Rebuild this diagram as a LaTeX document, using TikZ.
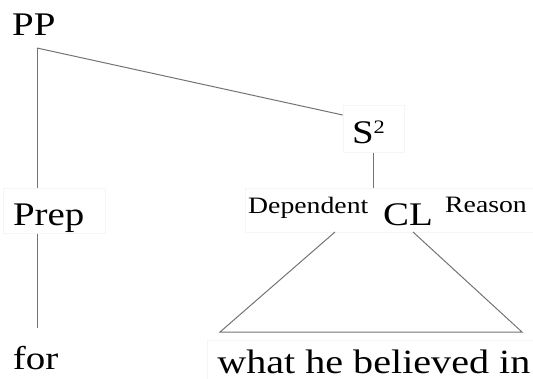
\documentclass[tikz,border=0pt]{standalone}
\usepackage{fontspec}
\setmainfont{Liberation Serif}[FakeStretch=1.18]
\begin{document}
\begin{tikzpicture}[x=1pt,y=-1pt,
  big/.style={font=\fontsize{33}{36}\selectfont, inner sep=0pt},
  small/.style={font=\fontsize{23.5}{25}\selectfont, inner sep=0pt},
  faint/.style={draw=black!4, line width=0.6pt},
  edge/.style={draw=black!55, line width=1pt}]
\useasboundingbox (0,0) rectangle (533,378);

\node[big, anchor=base west] (PP) at (12,35) {PP};
\coordinate (c0) at (37,48);

\node[big, faint, anchor=north west, inner xsep=9.7pt, inner ysep=0pt,
      text width=82.6pt, align=left, text height=37pt, text depth=8pt] (Prep) at (3,188) {Prep};

\node[big, faint, anchor=north west, inner xsep=9pt, inner ysep=0pt,
      text width=43.3pt, align=left, text height=38.3pt, text depth=8.7pt] (S2) at (342.7,105)
      {S\raisebox{10pt}{\fontsize{19}{19}\selectfont 2}};

\node[faint, anchor=north west, minimum width=290pt, minimum height=44pt, inner sep=0pt] (CLbox) at (245,188) {};
\node[small, anchor=base west] (Dep) at (248,213) {Dependent};
\node[big, anchor=base west] (CL) at (383,225) {CL};
\node[small, anchor=base west] (Rea) at (445,212) {Reason};

\node[big, anchor=base west, text height=41pt] (for) at (12.7,369) {for};

\node[faint, font=\fontsize{34}{36}\selectfont, anchor=north west, inner xsep=10pt, inner ysep=0pt,
      text height=33pt, text depth=12pt] (what) at (207,340) {what he believed in};

\coordinate (tl) at (335,232);
\coordinate (tr) at (413,232);
\coordinate (bl) at (220,332);
\coordinate (br) at (522,332);

\draw[edge] (c0) -- (c0 |- Prep.north);
\draw[edge] (c0 |- Prep.south) -- (c0 |- for.north);
\draw[edge] (c0) -- ([yshift=-10pt]S2.north west);
\draw[edge] (S2.south) -- (S2.south |- CLbox.north);
\draw[edge] (tl) -- (bl) -- (br) -- (tr);
\end{tikzpicture}
\end{document}
